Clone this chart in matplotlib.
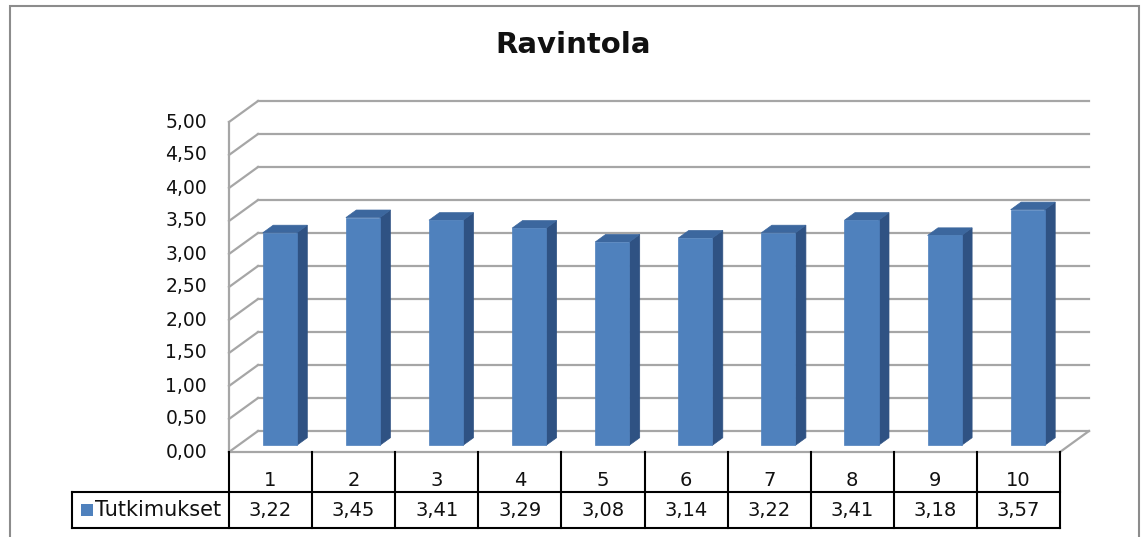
import numpy as np
import matplotlib.pyplot as plt
from matplotlib.patches import Polygon, Rectangle

title = "Ravintola"
series_name = "Tutkimukset"
categories = ["1", "2", "3", "4", "5", "6", "7", "8", "9", "10"]
values = [3.22, 3.45, 3.41, 3.29, 3.08, 3.14, 3.22, 3.41, 3.18, 3.57]
y_ticks = [0.0, 0.5, 1.0, 1.5, 2.0, 2.5, 3.0, 3.5, 4.0, 4.5, 5.0]

FRONT = "#4f81bd"
SIDE = "#2f5283"
TOP = "#3c679e"
GRID = "#a6a6a6"
TXT = "#111111"

W, H = 1141, 537
fig = plt.figure(figsize=(W / 100, H / 100), dpi=100)
ax = fig.add_axes([0, 0, 1, 1])
ax.axis("off")

# pixel geometry of the plot box (slot width, value scale)
x0_px, slot_px = 229, 83.1
y0_px, unit_px = 452, 66.0
ax.set_xlim(-x0_px / slot_px, (W - x0_px) / slot_px)
ax.set_ylim((y0_px - H) / unit_px, y0_px / unit_px)

# oblique depth offset (data units)
DX = 29 / slot_px
DY = 21 / unit_px
n = len(categories)
ymax = y_ticks[-1]


def off(x, y, d):
    return (x + DX * d, y + DY * d)


# gridlines: diagonal on left wall + back wall line
for t in y_ticks:
    ax.plot([0, DX], [t, t + DY], color=GRID, lw=1.6, zorder=1)
    ax.plot([DX, n + DX], [t + DY, t + DY], color=GRID, lw=1.6, zorder=1)

# left front edge, floor front edge and floor right edge
ax.plot([0, 0], [0, ymax], color=GRID, lw=1.6, zorder=1)
ax.plot([0, n], [0, 0], color=GRID, lw=1.6, zorder=1)
ax.plot([n, n + DX], [0, DY], color=GRID, lw=1.6, zorder=1)

# 3D bars
bw = 0.41
d_front, d_back = 0.32, 0.68
for i, v in enumerate(values):
    xl = i + 0.5 - bw / 2
    xr = i + 0.5 + bw / 2
    front = [off(xl, 0, d_front), off(xr, 0, d_front), off(xr, v, d_front), off(xl, v, d_front)]
    side = [off(xr, 0, d_front), off(xr, 0, d_back), off(xr, v, d_back), off(xr, v, d_front)]
    top = [off(xl, v, d_front), off(xr, v, d_front), off(xr, v, d_back), off(xl, v, d_back)]
    for pts, c in ((side, SIDE), (top, TOP), (front, FRONT)):
        ax.add_patch(Polygon(pts, closed=True, facecolor=c, edgecolor=c, lw=0.5, zorder=3))

# y tick labels
for t in y_ticks:
    ax.text(-0.265, t, f"{t:.2f}".replace(".", ","), ha="right", va="center",
            fontsize=13.5, color=TXT)

# data table (rows placed by pixel rows below the floor)
def yp(px):
    return (y0_px - px) / unit_px


row_top, row_mid, row_bot = yp(452), yp(492), yp(528)
legend_left = (72 - x0_px) / slot_px
lk = dict(color="black", lw=1.5, zorder=4, solid_capstyle="projecting")
for k in range(n + 1):
    ax.plot([k, k], [row_top, row_bot], **lk)
ax.plot([legend_left, n], [row_mid, row_mid], **lk)
ax.plot([legend_left, n], [row_bot, row_bot], **lk)
ax.plot([legend_left, legend_left], [row_mid, row_bot], **lk)

for i, (c, v) in enumerate(zip(categories, values)):
    ax.text(i + 0.5, yp(481), c, ha="center", va="center", fontsize=14, color=TXT)
    ax.text(i + 0.5, yp(510), f"{v:.2f}".replace(".", ","), ha="center", va="center",
            fontsize=14, color=TXT)

ax.add_patch(Rectangle(((81 - x0_px) / slot_px, yp(516)), 12 / slot_px, 12 / unit_px,
                       facecolor=FRONT, edgecolor="none", zorder=4))
ax.text((95 - x0_px) / slot_px, yp(510), series_name, ha="left", va="center",
        fontsize=15, color=TXT)

# title
fig.text(573 / W, 1 - 45 / H, title, ha="center", va="center", fontsize=21,
         fontweight="bold", color=TXT)

# chart frame
fig.patches.append(Rectangle((10 / W, -0.05), 1129 / W, 1.05 - 6 / H, transform=fig.transFigure,
                             fill=False, edgecolor="#8c8c8c", lw=1.5))

fig.savefig("out.png", dpi=100, facecolor="white")
